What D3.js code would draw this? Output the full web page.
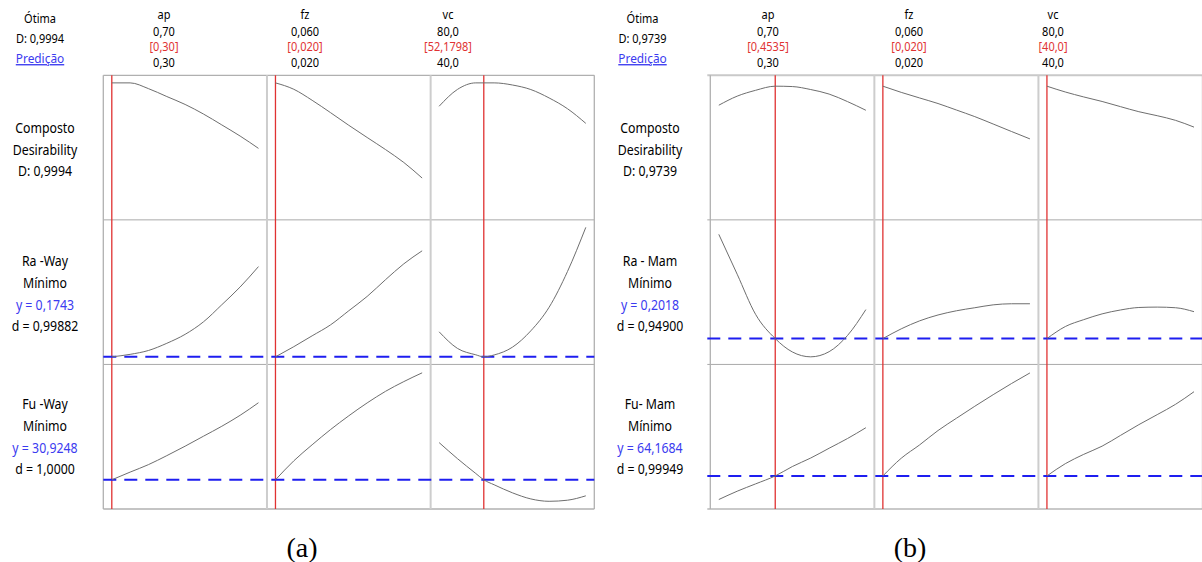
<!DOCTYPE html>
<html>
<head>
<meta charset="utf-8">
<script src="https://cdn.jsdelivr.net/npm/d3@7"></script>
<style>
  html, body { margin: 0; padding: 0; background: #fff; }
  svg { display: block; }
</style>
</head>
<body>
<svg id="fig" width="1202" height="562"></svg>
<script>
// ---- factors (shared by both optimisations) ----
const factorNames = ["ap", "fz", "vc"];
const factorHighLabels = ["0,70", "0,060", "80,0"];
const factorLowLabels = ["0,30", "0,020", "40,0"];
const apRange = [0.30, 0.70];
const fzRange = [0.020, 0.060];
const vcRange = [40, 80];

// ---- (a) Way ----
const aApGrid = [0.30, 0.35, 0.40, 0.45, 0.50, 0.55, 0.60, 0.65, 0.70];
const aFzGrid = [0.020, 0.025, 0.030, 0.035, 0.040, 0.045, 0.050, 0.055, 0.060];
const aVcGrid = [40, 45, 50, 52.1798, 55, 60, 65, 70, 75, 80];
const aOptimum = [0.30, 0.020, 52.1798];
const aOptimumDigits = [2, 3, 4];
const aCompositeD = 0.9994;
const aDesirAp = [0.9994, 0.9994, 0.955, 0.894, 0.833, 0.759, 0.675, 0.589, 0.494];
const aDesirFz = [0.9994, 0.950, 0.865, 0.770, 0.672, 0.578, 0.485, 0.385, 0.265];
const aDesirVc = [0.819, 0.949, 0.9994, 0.9994, 0.9994, 0.983, 0.948, 0.883, 0.800, 0.687];
const aRaNames = ["Ra -Way", "Mínimo"];
const aRaDomain = [0.174, 0.600];
const aRaPred = 0.1743;
const aRaDesir = 0.99882;
const aRaAp = [0.1743, 0.1825, 0.1952, 0.2188, 0.2483, 0.2894, 0.3456, 0.404, 0.471];
const aRaFz = [0.1743, 0.2077, 0.2434, 0.2793, 0.3259, 0.3729, 0.4278, 0.4801, 0.5229];
const aRaVc = [0.2566, 0.202, 0.181, 0.1743, 0.1805, 0.2061, 0.2598, 0.3375, 0.4547, 0.600];
const aFuNames = ["Fu -Way", "Mínimo"];
const aFuDomain = [28.75, 41.75];
const aFuPred = 30.9248;
const aFuDesir = 1.0000;
const aFuAp = [30.9248, 31.70, 32.45, 33.35, 34.30, 35.30, 36.30, 37.40, 38.66];
const aFuFz = [30.9248, 32.83, 34.44, 35.96, 37.35, 38.64, 39.80, 40.78, 41.66];
const aFuVc = [34.66, 33.05, 31.56, 30.9248, 30.43, 29.62, 29.01, 28.77, 28.88, 29.32];

// ---- (b) Mam ----
const bApGrid = [0.30, 0.35, 0.40, 0.4535, 0.50, 0.55, 0.60, 0.65, 0.70];
const bFzGrid = [0.020, 0.025, 0.030, 0.035, 0.040, 0.045, 0.050, 0.055, 0.060];
const bVcGrid = [40, 45, 50, 55, 60, 65, 70, 75, 80];
const bOptimum = [0.4535, 0.020, 40.0];
const bOptimumDigits = [4, 3, 1];
const bCompositeD = 0.9739;
const bDesirAp = [0.827, 0.897, 0.942, 0.9739, 0.971, 0.948, 0.913, 0.855, 0.788];
const bDesirFz = [0.9739, 0.926, 0.883, 0.840, 0.790, 0.739, 0.682, 0.624, 0.567];
const bDesirVc = [0.9739, 0.929, 0.891, 0.856, 0.816, 0.777, 0.746, 0.710, 0.658];
const bRaNames = ["Ra - Mam", "Mínimo"];
const bRaDomain = [0.165, 0.425];
const bRaPred = 0.2018;
const bRaDesir = 0.94900;
const bRaAp = [0.411, 0.331, 0.2505, 0.2018, 0.175, 0.1652, 0.1755, 0.208, 0.260];
const bRaFz = [0.2018, 0.2214, 0.2374, 0.2492, 0.2576, 0.2637, 0.2695, 0.2717, 0.2717];
const bRaVc = [0.2018, 0.2260, 0.2398, 0.2514, 0.2592, 0.2642, 0.2650, 0.2637, 0.2558];
const bFuNames = ["Fu- Mam", "Mínimo"];
const bFuDomain = [59.0, 85.2];
const bFuPred = 64.1684;
const bFuDesir = 0.99949;
const bFuAp = [59.40, 61.08, 62.56, 64.1684, 66.07, 67.79, 69.77, 71.73, 73.92];
const bFuFz = [64.1684, 67.75, 70.45, 73.35, 75.83, 78.26, 80.60, 82.86, 85.0];
const bFuVc = [64.1684, 66.65, 68.53, 70.19, 72.36, 74.54, 76.57, 78.66, 81.20];

// ---- number formatting with decimal comma ----
const locale = d3.formatLocale({ decimal: ",", thousands: ".", grouping: [3], currency: ["", ""] });
const fmt = (digits) => locale.format("." + digits + "f");

const factorRanges = [apRange, fzRange, vcRange];

const charts = [
  {
    x0: 103.3, x1: 594.3, openLeft: false,
    headX: 40, labelX: 45, colX: [164, 305, 448], caption: "(a)", captionX: 302,
    grids: [aApGrid, aFzGrid, aVcGrid],
    optimum: aOptimum, optDigits: aOptimumDigits, D: aCompositeD,
    desir: [aDesirAp, aDesirFz, aDesirVc],
    responses: [
      { names: aRaNames, domain: aRaDomain, pred: aRaPred, d: aRaDesir, dDigits: 5, series: [aRaAp, aRaFz, aRaVc] },
      { names: aFuNames, domain: aFuDomain, pred: aFuPred, d: aFuDesir, dDigits: 4, series: [aFuAp, aFuFz, aFuVc] }
    ]
  },
  {
    x0: 710.3, x1: 1202.5, openLeft: true,
    headX: 642.5, labelX: 650, colX: [768, 909, 1053], caption: "(b)", captionX: 910,
    grids: [bApGrid, bFzGrid, bVcGrid],
    optimum: bOptimum, optDigits: bOptimumDigits, D: bCompositeD,
    desir: [bDesirAp, bDesirFz, bDesirVc],
    responses: [
      { names: bRaNames, domain: bRaDomain, pred: bRaPred, d: bRaDesir, dDigits: 5, series: [bRaAp, bRaFz, bRaVc] },
      { names: bFuNames, domain: bFuDomain, pred: bFuPred, d: bFuDesir, dDigits: 5, series: [bFuAp, bFuFz, bFuVc] }
    ]
  }
];

const svg = d3.select("#fig");
const SANS = "'Noto Sans', 'Open Sans', sans-serif";
const RED = "#e03232";
const BLUE = "#1e1ef0";
const TEXT_BLUE = "#3b3bf0";
const INK = "#000";

function txt(g, x, y, s, size, color, underline) {
  const t = g.append("text")
    .attr("transform", `translate(${x},${y}) scale(0.88,1)`)
    .attr("text-anchor", "middle")
    .attr("font-family", SANS)
    .attr("font-size", size)
    .attr("fill", color)
    .text(s);
  if (underline) t.attr("text-decoration", "underline");
  return t;
}

const frameTop = 75.3, frameBottom = 509;
const rowH = (frameBottom - frameTop) / 3;
const pad = 7.5;
const inset = 8.5;

charts.forEach(c => {
  const g = svg.append("g");
  const panelW = (c.x1 - c.x0) / 3;

  // x scales, one per factor column
  const xs = factorRanges.map((r, i) =>
    d3.scaleLinear().domain(r).range([c.x0 + i * panelW + inset, c.x0 + (i + 1) * panelW - inset]));

  // y scales, one per row
  const rowTop = i => frameTop + i * rowH;
  const ys = [
    d3.scaleLinear().domain([0, 1]).range([rowTop(1) - pad, rowTop(0) + pad]),
    d3.scaleLinear().domain(c.responses[0].domain).range([rowTop(2) - pad, rowTop(1) + pad]),
    d3.scaleLinear().domain(c.responses[1].domain).range([rowTop(3) - pad, rowTop(2) + pad])
  ];

  // ---- header ----
  const H = 12.5;
  txt(g, c.headX, 23, "Ótima", H, INK);
  txt(g, c.headX, 43, "D: " + fmt(4)(c.D), H, INK);
  txt(g, c.headX, 63, "Predição", 13.5, TEXT_BLUE, true);
  factorNames.forEach((name, i) => {
    txt(g, c.colX[i], 19, name, H, INK);
    txt(g, c.colX[i], 36, factorHighLabels[i], H, INK);
    txt(g, c.colX[i], 51, "[" + fmt(c.optDigits[i])(c.optimum[i]) + "]", H, RED);
    txt(g, c.colX[i], 67, factorLowLabels[i], H, INK);
  });

  // ---- row labels ----
  const L = 14;
  txt(g, c.labelX, 132.5, "Composto", L, INK);
  txt(g, c.labelX, 154.5, "Desirability", L, INK);
  txt(g, c.labelX, 176, "D: " + fmt(4)(c.D), L, INK);
  c.responses.forEach((r, k) => {
    const base = k === 0 ? 266 : 409;
    txt(g, c.labelX, base, r.names[0], L, INK);
    txt(g, c.labelX, base + 22, r.names[1], L, INK);
    txt(g, c.labelX, base + 43.5, "y = " + fmt(4)(r.pred), L, TEXT_BLUE);
    txt(g, c.labelX, base + 65, "d = " + fmt(r.dDigits)(r.d), L, INK);
  });

  // ---- frame ----
  const hx0 = c.openLeft ? c.x0 - 3 : c.x0;
  [1, 2].forEach(i => {
    g.append("line").attr("x1", hx0).attr("x2", c.x1).attr("y1", rowTop(i)).attr("y2", rowTop(i))
      .attr("stroke", "#a9a9a9").attr("stroke-width", 1);
  });
  [frameTop, frameBottom].forEach(y => {
    g.append("line").attr("x1", hx0).attr("x2", c.x1).attr("y1", y).attr("y2", y)
      .attr("stroke", c.openLeft ? "#c9c9c9" : "#b0b0b0").attr("stroke-width", c.openLeft ? 2 : 1.3);
  });
  [c.x0, c.x1].forEach(x => {
    g.append("line").attr("x1", x).attr("x2", x).attr("y1", frameTop).attr("y2", frameBottom)
      .attr("stroke", "#b0b0b0").attr("stroke-width", 1.3);
  });
  [1, 2].forEach(i => {
    const x = c.x0 + i * panelW;
    g.append("line").attr("x1", x).attr("x2", x).attr("y1", frameTop).attr("y2", frameBottom)
      .attr("stroke", "#cdcdcd").attr("stroke-width", 2);
  });

  // ---- optimum settings (red verticals) ----
  c.optimum.forEach((v, i) => {
    g.append("line").attr("x1", xs[i](v)).attr("x2", xs[i](v)).attr("y1", frameTop).attr("y2", frameBottom)
      .attr("stroke", RED).attr("stroke-width", 1.3);
  });

  // ---- predicted responses (blue dashed) ----
  c.responses.forEach((r, k) => {
    const y = ys[k + 1](r.pred);
    g.append("line").attr("x1", hx0).attr("x2", Math.min(c.x1, 1202)).attr("y1", y).attr("y2", y)
      .attr("stroke", BLUE).attr("stroke-width", 2).attr("stroke-dasharray", "13,8");
  });

  // ---- response traces ----
  const rows = [c.desir, c.responses[0].series, c.responses[1].series];
  rows.forEach((seriesList, row) => {
    seriesList.forEach((vals, i) => {
      const line = d3.line()
        .x((d, j) => xs[i](c.grids[i][j]))
        .y(d => ys[row](d))
        .curve(d3.curveMonotoneX);
      g.append("path").attr("d", line(vals))
        .attr("fill", "none").attr("stroke", "#6e6e6e").attr("stroke-width", 1);
    });
  });

  // ---- caption ----
  g.append("text").attr("x", c.captionX).attr("y", 557).attr("text-anchor", "middle")
    .attr("font-family", "'Liberation Serif', 'Times New Roman', serif").attr("font-size", 28)
    .attr("fill", "#000").text(c.caption);
});
</script>
</body>
</html>
